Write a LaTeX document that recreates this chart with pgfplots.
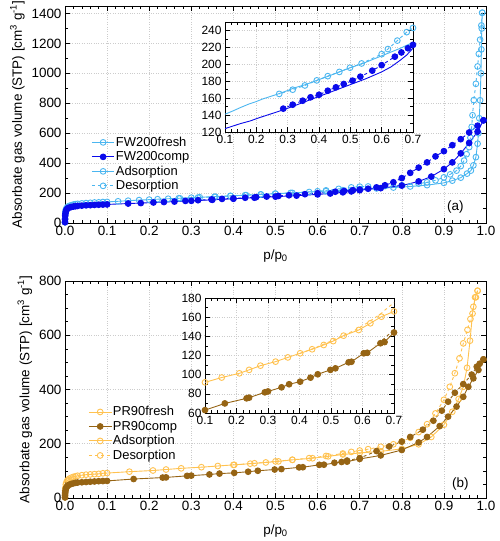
\documentclass[border=0pt]{standalone}
\usepackage{pgfplots}
\pgfplotsset{compat=1.18}
\usepackage{pgfplotstable}
\usepackage{fontspec}
\setmainfont{Liberation Sans}
\definecolor{lblue}{RGB}{75,182,240}
\definecolor{dblue}{RGB}{10,10,235}
\definecolor{lorange}{RGB}{255,194,80}
\definecolor{brownc}{RGB}{150,100,20}

% FW200fresh adsorption
\pgfplotstableread{
x y
0.00005 5
0.0002 30
0.0005 55
0.001 72
0.002 88
0.003 96
0.005 104
0.007 109
0.01 114
0.015 119
0.02 123
0.025 126
0.03 128
0.04 131
0.05 133
0.06 135
0.07 137
0.08 138
0.09 140
0.1 141
0.126 145
0.15 149
0.176 153
0.2 156
0.22 159
0.245 162
0.27 165
0.3 169
0.32 172
0.357 176
0.393 181
0.43 186
0.465 191
0.5 196
0.54 201
0.58 207
0.62 213
0.66 219
0.7 226
0.74 231
0.78 237
0.82 244
0.86 253
0.9 268
0.92 283
0.94 303
0.955 330
0.964 350
0.97 385
0.976 440
0.98 530
0.982 600
0.984 700
0.986 820
0.988 1000
0.989 1160
0.990 1300
0.991 1405
}\fwfa
% FW200fresh desorption
\pgfplotstableread{
x y
0.991 1405
0.989 1320
0.986 1225
0.983 1130
0.980 1046
0.976 930
0.971 821
0.968 720
0.966 642
0.963 570
0.960 507
0.954 460
0.948 417
0.94 380
0.93 350
0.915 325
0.9 305
0.88 285
0.86 272
0.84 263
0.8 252
0.76 247
0.72 244
0.7 243
0.68 238
0.65 228
0.62 218
0.6 212
0.536 201
0.499 196
0.465 191
0.428 186
0.393 181
0.355 175
0.316 170
0.273 165
}\fwfd
% FW200comp adsorption
\pgfplotstableread{
x y
0.00005 5
0.0002 25
0.0005 48
0.001 63
0.002 78
0.003 86
0.005 94
0.007 99
0.01 103
0.015 107
0.02 110
0.025 112
0.03 114
0.04 116
0.05 118
0.06 119
0.07 121
0.08 122
0.09 123
0.1 124
0.15 130
0.18 133
0.21 137
0.235 140
0.26 143
0.3 148
0.35 155
0.4 162
0.45 169
0.5 176
0.55 183
0.6 191
0.63 197
0.66 205
0.68 211
0.7 219
0.75 233
0.8 250
0.84 278
0.87 310
0.9 360
0.92 405
0.94 465
0.96 535
0.98 610
0.994 686
}\fwca
% FW200comp desorption
\pgfplotstableread{
x y
0.994 686
0.98 650
0.96 605
0.94 560
0.92 520
0.9 480
0.88 445
0.86 405
0.84 370
0.82 335
0.8 300
0.78 272
0.76 252
0.74 238
0.72 229
0.7 223
0.684 219
0.663 214
0.642 209
0.6 199
0.57 192.5
0.532 185.4
0.507 180.7
0.479 176.7
0.454 172.8
0.428 168.8
0.4 164
0.373 161
0.348 157
0.316 152.3
0.286 147.6
}\fwcd
% PR90fresh adsorption
\pgfplotstableread{
x y
0.00005 3
0.0002 15
0.0005 28
0.001 38
0.002 50
0.003 56
0.005 63
0.007 67
0.01 71
0.015 75
0.02 78
0.025 80
0.03 82
0.04 84
0.05 86
0.06 87
0.07 88
0.08 89
0.09 91
0.1 92
0.153 97
0.209 101.4
0.24 105
0.276 109.4
0.324 113.6
0.363 118
0.402 122.3
0.44 126.5
0.477 131
0.507 135
0.54 140.7
0.588 146.6
0.625 153.6
0.66 160.5
0.7 166
0.75 172
0.8 181
0.84 198
0.87 225
0.9 270
0.92 318
0.935 365
0.946 410
0.955 480
0.962 580
0.968 680
0.974 740
0.98 764
}\prfa
% PR90fresh desorption
\pgfplotstableread{
x y
0.98 764
0.976 740
0.97 705
0.963 660
0.956 620
0.946 570
0.937 515
0.926 460
0.914 410
0.9 362
0.88 312
0.86 272
0.84 243
0.82 222
0.8 208
0.78 198
0.75 189
0.72 180
0.7 175
0.68 170
0.66 164
0.62 155
0.58 147
0.54 141
0.5 135
0.45 128
0.4 122
}\prfd
% PR90comp adsorption
\pgfplotstableread{
x y
0.00005 2
0.0002 10
0.0005 19
0.001 26
0.002 34
0.003 38
0.005 43
0.007 46
0.01 49
0.015 52
0.02 54
0.025 56
0.03 57
0.04 58
0.05 59
0.06 60
0.07 61
0.08 62
0.09 62.5
0.1 63
0.163 70
0.232 75.3
0.24 76
0.29 81.6
0.3 82.5
0.343 86.8
0.367 90
0.402 92.7
0.435 96.9
0.458 100.4
0.498 105
0.514 106.6
0.556 112.9
0.565 113.5
0.604 122.3
0.615 122.8
0.657 132.8
0.67 134
0.7 144
0.75 157
0.8 177
0.84 205
0.86 225
0.89 265
0.91 300
0.93 337
0.946 373
0.958 410
0.97 441
0.982 472
0.994 511
}\prca
% PR90comp desorption
\pgfplotstableread{
x y
0.994 511
0.985 495
0.978 484
0.966 455
0.946 420
0.926 388
0.91 355
0.895 322
0.875 285
0.85 252
0.82 225
0.8 208
0.77 190
0.74 173
0.7 147
0.67 138
0.64 130
}\prcd

\pgfplotsset{
  common/.style={
    scale only axis,
    grid=major, major grid style={dotted, gray!40, line width=0.6pt},
    tick style={black, line width=0.6pt},
    major tick length=5bp, minor tick length=3bp,
    axis line style={line width=0.8pt},
    every axis plot/.append style={line width=0.9pt},
  },
  mainax/.style={
    common,
    width=421bp, height=217bp,
    xmin=0, xmax=1,
    xtick={0,0.1,0.2,0.3,0.4,0.5,0.6,0.7,0.8,0.9,1.0},
    xticklabels={0.0,0.1,0.2,0.3,0.4,0.5,0.6,0.7,0.8,0.9,1.0},
    minor x tick num=4,
    every tick label/.append style={font=\fontsize{13.5}{15}\selectfont},
    xlabel style={font=\fontsize{13.5}{15}\selectfont, yshift=-7bp},
    ylabel style={font=\fontsize{13.5}{15}\selectfont},
    xlabel={p/p\textsubscript{0}},
    ylabel={Absorbate gas volume (STP) [cm\textsuperscript{3} g\textsuperscript{-1}]},
    legend cell align=left,
    legend style={draw=none, fill=none, anchor=north west,
      font=\fontsize{13}{14}\selectfont, row sep=0pt,
      nodes={inner sep=1pt, text height=10bp, text depth=2.5bp}},
    legend image code/.code={\draw[mark repeat=2,mark phase=2] plot coordinates {(0cm,0cm) (0.4cm,0cm) (0.8cm,0cm)};},
  },
  inax/.style={
    common,
    xmin=0.1, xmax=0.7,
    xtick={0.1,0.2,0.3,0.4,0.5,0.6,0.7},
    xticklabels={0.1,0.2,0.3,0.4,0.5,0.6,0.7},
    minor x tick num=4, minor y tick num=1,
    every tick label/.append style={font=\fontsize{12}{13}\selectfont},
    axis background/.style={fill=white},
  },
  mk/.style={mark size=2.9pt},
}

\begin{document}
\begin{tikzpicture}
% ---------- bottom panel ----------
\begin{axis}[mainax, at={(0,0)}, anchor=south west,
  ymin=0, ymax=800, ytick={0,200,400,600,800}, yticklabels={0,200,400,600,800},
  minor y tick num=3,
  legend style={at={(0.048,0.44)}}]
\addplot[lorange, mark=o, mk, mark options={solid}] table {\prfa};
\addlegendentry{PR90fresh}
\addplot[lorange, dashed, mark=o, mk, mark options={solid}, forget plot] table {\prfd};
\addplot[brownc, mark=*, mk, mark options={solid, fill=brownc}] table {\prca};
\addlegendentry{PR90comp}
\addplot[brownc, dashed, mark=*, mk, mark options={solid, fill=brownc}, forget plot] table {\prcd};
\addlegendimage{lorange, line width=0.9pt, mark=o, mark size=2.9pt, mark options={solid}}
\addlegendentry{Adsorption}
\addlegendimage{lorange, dashed, line width=0.9pt, mark=o, mark size=2.9pt, mark options={solid}}
\addlegendentry{Desorption}
\node[anchor=south east, font=\fontsize{13.5}{15}\selectfont] at (rel axis cs:0.967,0.02) {(b)};
\end{axis}
\begin{axis}[inax, at={(140bp,85bp)}, anchor=south west, width=189bp, height=115bp,
  ymin=60, ymax=180, ytick={60,80,100,120,140,160,180}, yticklabels={60,80,100,120,140,160,180}]
\addplot[lorange, mark=o, mk, mark options={solid}] table {\prfa};
\addplot[lorange, dashed] table {\prfd};
\addplot[brownc, mark=*, mk, mark options={solid, fill=brownc}] table {\prca};
\addplot[brownc, dashed] table {\prcd};
\end{axis}
% ---------- top panel ----------
\begin{axis}[mainax, at={(0,275bp)}, anchor=south west,
  ymin=0, ymax=1450, ytick={0,200,400,600,800,1000,1200,1400},
  yticklabels={0,200,400,600,800,1000,1200,1400},
  minor y tick num=1,
  legend style={at={(0.055,0.415)}}]
\addplot[lblue, mark=o, mk, mark options={solid}] table {\fwfa};
\addlegendentry{FW200fresh}
\addplot[lblue, dashed, mark=o, mk, mark options={solid}, forget plot] table {\fwfd};
\addplot[dblue, mark=*, mk, mark options={solid, fill=dblue}] table {\fwca};
\addlegendentry{FW200comp}
\addplot[dblue, dashed, mark=*, mk, mark options={solid, fill=dblue}, forget plot] table {\fwcd};
\addlegendimage{lblue, line width=0.9pt, mark=o, mark size=2.9pt, mark options={solid}}
\addlegendentry{Adsorption}
\addlegendimage{lblue, dashed, line width=0.9pt, mark=o, mark size=2.9pt, mark options={solid}}
\addlegendentry{Desorption}
\node[anchor=south east, font=\fontsize{13.5}{15}\selectfont] at (rel axis cs:0.955,0.03) {(a)};
\end{axis}
\begin{axis}[inax, at={(160bp,366bp)}, anchor=south west, width=188bp, height=110bp,
  ymin=120, ymax=250, ytick={120,140,160,180,200,220,240}, yticklabels={120,140,160,180,200,220,240}]
\addplot[lblue] table {\fwfa};
\addplot[lblue, dashed, mark=o, mk, mark options={solid}] table {\fwfd};
\addplot[dblue] table {\fwca};
\addplot[dblue, dashed, mark=*, mk, mark options={solid, fill=dblue}] table {\fwcd};
\end{axis}
\pgfresetboundingbox
\path[use as bounding box] (-65bp,-43bp) rectangle (435bp,498bp);
\end{tikzpicture}
\end{document}
